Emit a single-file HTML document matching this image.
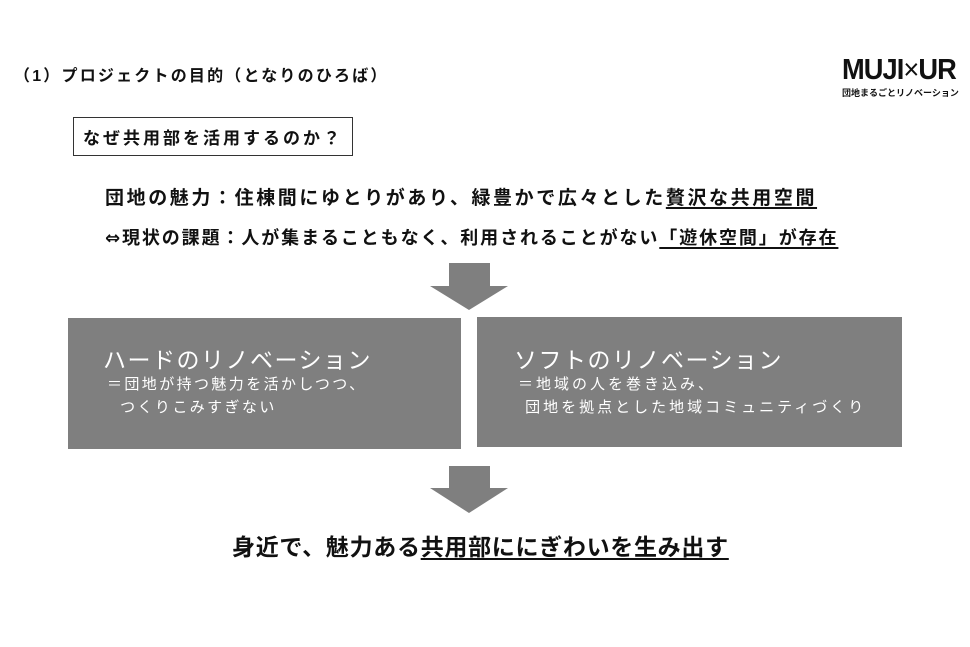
<!DOCTYPE html>
<html><head><meta charset="utf-8"><style>
body{margin:0;width:970px;height:647px;background:#fff;position:relative;overflow:hidden;font-family:"Liberation Sans","Noto Sans CJK JP",sans-serif;color:#111}
.a{position:absolute;white-space:nowrap;font-weight:bold}
u{text-decoration:underline;text-underline-offset:3px;text-decoration-thickness:2px}
.box{position:absolute;background:#7f7f7f;color:#fff}
</style></head><body>
<div class="a" style="left:14px;top:62px;font-size:16px;letter-spacing:2.2px">（1）プロジェクトの目的（となりのひろば）</div>
<div class="a" style="left:842px;top:54px;font-size:29px;letter-spacing:-1px;transform:scaleX(0.94);transform-origin:left">MUJI<span style="font-weight:normal">×</span>UR</div>
<div class="a" style="left:842px;top:86px;font-size:9px">団地まるごとリノベーション</div>
<div style="position:absolute;left:73px;top:117px;width:278px;height:37px;border:1px solid #333"></div>
<div class="a" style="left:83px;top:124px;font-size:17px;letter-spacing:3px">なぜ共用部を活用するのか？</div>
<div class="a" style="left:105px;top:183px;font-size:19px;letter-spacing:2.6px">団地の魅力：住棟間にゆとりがあり、緑豊かで広々とした<u>贅沢な共用空間</u></div>
<div class="a" style="left:105px;top:224px;font-size:18px;letter-spacing:1.9px"><span style="font-family:'DejaVu Sans',sans-serif">⇔</span>現状の課題：人が集まることもなく、利用されることがない<u>「遊休空間」が存在</u></div>
<svg style="position:absolute;left:0;top:0" width="970" height="647">
<polygon points="449,263 490,263 490,286 508,286 469,310 430,286 449,286" fill="#7f7f7f"/>
<polygon points="449,466 490,466 490,488 508,488 469,513 430,488 449,488" fill="#7f7f7f"/>
</svg>
<div class="box" style="left:68px;top:318px;width:393px;height:131px"></div>
<div class="box" style="left:477px;top:317px;width:425px;height:130px"></div>
<div class="a" style="left:103px;top:341px;font-size:23px;letter-spacing:1.5px;color:#fff;font-weight:normal">ハードのリノベーション</div>
<div class="a" style="left:107px;top:373px;font-size:15px;letter-spacing:2.4px;color:#fff;font-weight:normal;line-height:23px">＝団地が持つ魅力を活かしつつ、<br>&nbsp;&nbsp;つくりこみすぎない</div>
<div class="a" style="left:514px;top:341px;font-size:23px;letter-spacing:1.5px;color:#fff;font-weight:normal">ソフトのリノベーション</div>
<div class="a" style="left:518px;top:373px;font-size:15px;letter-spacing:3px;color:#fff;font-weight:normal;line-height:23px">＝地域の人を巻き込み、<br>&nbsp;団地を拠点とした地域コミュニティづくり</div>
<div class="a" style="left:232px;top:528px;font-size:23px;letter-spacing:0.7px">身近で、魅力ある<u>共用部ににぎわいを生み出す</u></div>
</body></html>
